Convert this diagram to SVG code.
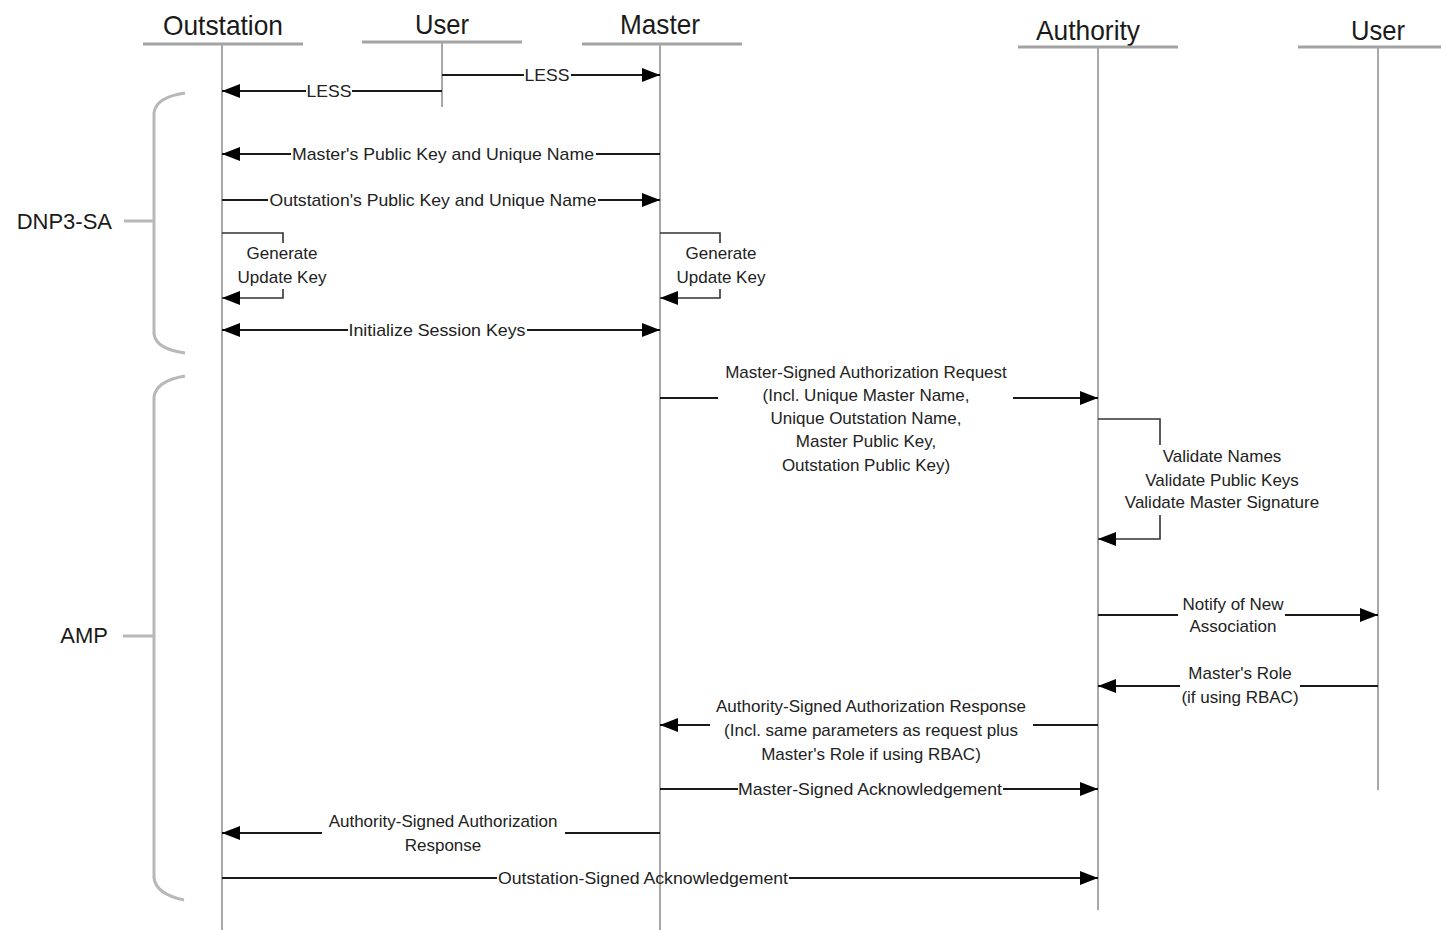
<svg xmlns="http://www.w3.org/2000/svg" width="1441" height="930" viewBox="0 0 1441 930">
<style>
.hdr{font-family:"Liberation Sans",Arial,sans-serif;font-size:28px;fill:#1a1a1a;text-anchor:middle}
.lbl{font-family:"Liberation Sans",Arial,sans-serif;font-size:17px;fill:#222;text-anchor:middle}
.grp{font-family:"Liberation Sans",Arial,sans-serif;font-size:22px;fill:#1a1a1a}
.hline{stroke:#a3a3a3;stroke-width:3;fill:none}
.life{stroke:#a8a8a8;stroke-width:2;fill:none}
.msg{stroke:#1a1a1a;stroke-width:2;fill:none}
.self{stroke:#333;stroke-width:1.6;fill:none}
.brace{stroke:#b8b8b8;stroke-width:3;fill:none}
</style>
<defs>
<marker id="ah" markerUnits="userSpaceOnUse" markerWidth="18" markerHeight="14" viewBox="0 0 18 14" refX="18" refY="7" orient="auto">
<path d="M0,0 L18,7 L0,14 z" fill="#000"/>
</marker>
</defs>
<rect width="1441" height="930" fill="#fff"/>

<g id="outstation">
<text class="hdr" x="223" y="35" textLength="120" lengthAdjust="spacingAndGlyphs">Outstation</text>
<line class="hline" x1="143" y1="44" x2="303" y2="44"/>
<line class="life" x1="222" y1="44" x2="222" y2="930"/>
</g>
<g id="user1">
<text class="hdr" x="442" y="34" textLength="54" lengthAdjust="spacingAndGlyphs">User</text>
<line class="hline" x1="362" y1="42" x2="522" y2="42"/>
<line class="life" x1="442" y1="42" x2="442" y2="107"/>
</g>
<g id="master">
<text class="hdr" x="660" y="34" textLength="80" lengthAdjust="spacingAndGlyphs">Master</text>
<line class="hline" x1="582" y1="44" x2="742" y2="44"/>
<line class="life" x1="660" y1="44" x2="660" y2="930"/>
</g>
<g id="authority">
<text class="hdr" x="1088" y="40" textLength="104" lengthAdjust="spacingAndGlyphs">Authority</text>
<line class="hline" x1="1018" y1="47" x2="1178" y2="47"/>
<line class="life" x1="1098" y1="47" x2="1098" y2="910"/>
</g>
<g id="user2">
<text class="hdr" x="1378" y="40" textLength="54" lengthAdjust="spacingAndGlyphs">User</text>
<line class="hline" x1="1298" y1="47" x2="1441" y2="47"/>
<line class="life" x1="1378" y1="47" x2="1378" y2="790"/>
</g>

<g id="dnp3sa">
<path class="brace" d="M185,93 Q156,97 154,113 V334 Q156,349 185,353"/>
<line class="brace" x1="124" y1="221" x2="154" y2="221"/>
<text class="grp" x="112" y="229" text-anchor="end">DNP3-SA</text>
</g>
<g id="amp">
<path class="brace" d="M185,376 Q156,381 154,397 V878 Q156,894 184,900"/>
<line class="brace" x1="123" y1="636" x2="154" y2="636"/>
<text class="grp" x="108" y="643" text-anchor="end">AMP</text>
</g>

<g id="connectors">
<!-- LESS user -> master -->
<path class="msg" d="M442,75 H524"/>
<path class="msg" d="M571,75 H660" marker-end="url(#ah)"/>
<text class="lbl" x="547" y="81" textLength="45" lengthAdjust="spacingAndGlyphs">LESS</text>
<!-- LESS user -> outstation -->
<path class="msg" d="M442,91 H352"/>
<path class="msg" d="M306,91 H222" marker-end="url(#ah)"/>
<text class="lbl" x="329" y="97" textLength="45" lengthAdjust="spacingAndGlyphs">LESS</text>
<!-- Master's public key -->
<path class="msg" d="M660,154 H596"/>
<path class="msg" d="M291,154 H222" marker-end="url(#ah)"/>
<text class="lbl" x="443" y="160" textLength="302" lengthAdjust="spacingAndGlyphs">Master's Public Key and Unique Name</text>
<!-- Outstation's public key -->
<path class="msg" d="M222,200 H268"/>
<path class="msg" d="M598,200 H660" marker-end="url(#ah)"/>
<text class="lbl" x="433" y="206" textLength="327" lengthAdjust="spacingAndGlyphs">Outstation's Public Key and Unique Name</text>
<!-- Outstation self -->
<path class="self" d="M222,233 H283 V243"/>
<path class="self" d="M283,289 V298 H222" marker-end="url(#ah)"/>
<text class="lbl" x="282" y="259">Generate</text>
<text class="lbl" x="282" y="283">Update Key</text>
<!-- Master self -->
<path class="self" d="M660,233 H720 V243"/>
<path class="self" d="M720,289 V298 H660" marker-end="url(#ah)"/>
<text class="lbl" x="721" y="259">Generate</text>
<text class="lbl" x="721" y="283">Update Key</text>
<!-- Initialize session keys -->
<path class="msg" d="M348,330 H222" marker-end="url(#ah)"/>
<path class="msg" d="M527,330 H660" marker-end="url(#ah)"/>
<text class="lbl" x="437" y="336" textLength="177" lengthAdjust="spacingAndGlyphs">Initialize Session Keys</text>
<!-- Master-signed auth request -->
<path class="msg" d="M660,398 H718"/>
<path class="msg" d="M1013,398 H1098" marker-end="url(#ah)"/>
<text class="lbl" x="866" y="378">Master-Signed Authorization Request</text>
<text class="lbl" x="866" y="401">(Incl. Unique Master Name,</text>
<text class="lbl" x="866" y="424">Unique Outstation Name,</text>
<text class="lbl" x="866" y="447">Master Public Key,</text>
<text class="lbl" x="866" y="471">Outstation Public Key)</text>
<!-- Authority self -->
<path class="self" d="M1098,419 H1160 V445"/>
<path class="self" d="M1160,515 V539 H1098" marker-end="url(#ah)"/>
<text class="lbl" x="1222" y="462">Validate Names</text>
<text class="lbl" x="1222" y="486">Validate Public Keys</text>
<text class="lbl" x="1222" y="508">Validate Master Signature</text>
<!-- Notify -->
<path class="msg" d="M1098,615 H1178"/>
<path class="msg" d="M1285,615 H1378" marker-end="url(#ah)"/>
<text class="lbl" x="1233" y="610">Notify of New</text>
<text class="lbl" x="1233" y="632">Association</text>
<!-- Master's role -->
<path class="msg" d="M1378,686 H1300"/>
<path class="msg" d="M1180,686 H1098" marker-end="url(#ah)"/>
<text class="lbl" x="1240" y="679">Master's Role</text>
<text class="lbl" x="1240" y="703">(if using RBAC)</text>
<!-- Authority-signed response -->
<path class="msg" d="M1098,725 H1033"/>
<path class="msg" d="M710,725 H660" marker-end="url(#ah)"/>
<text class="lbl" x="871" y="712">Authority-Signed Authorization Response</text>
<text class="lbl" x="871" y="736">(Incl. same parameters as request plus</text>
<text class="lbl" x="871" y="760">Master's Role if using RBAC)</text>
<!-- Master-signed ack -->
<path class="msg" d="M660,789 H738"/>
<path class="msg" d="M1003,789 H1098" marker-end="url(#ah)"/>
<text class="lbl" x="870" y="795" textLength="264" lengthAdjust="spacingAndGlyphs">Master-Signed Acknowledgement</text>
<!-- Authority-signed response to outstation -->
<path class="msg" d="M660,833 H565"/>
<path class="msg" d="M322,833 H222" marker-end="url(#ah)"/>
<text class="lbl" x="443" y="827">Authority-Signed Authorization</text>
<text class="lbl" x="443" y="851">Response</text>
<!-- Outstation-signed ack -->
<path class="msg" d="M222,878 H497"/>
<path class="msg" d="M789,878 H1098" marker-end="url(#ah)"/>
<text class="lbl" x="643" y="884" textLength="290" lengthAdjust="spacingAndGlyphs">Outstation-Signed Acknowledgement</text>
</g>
</svg>
